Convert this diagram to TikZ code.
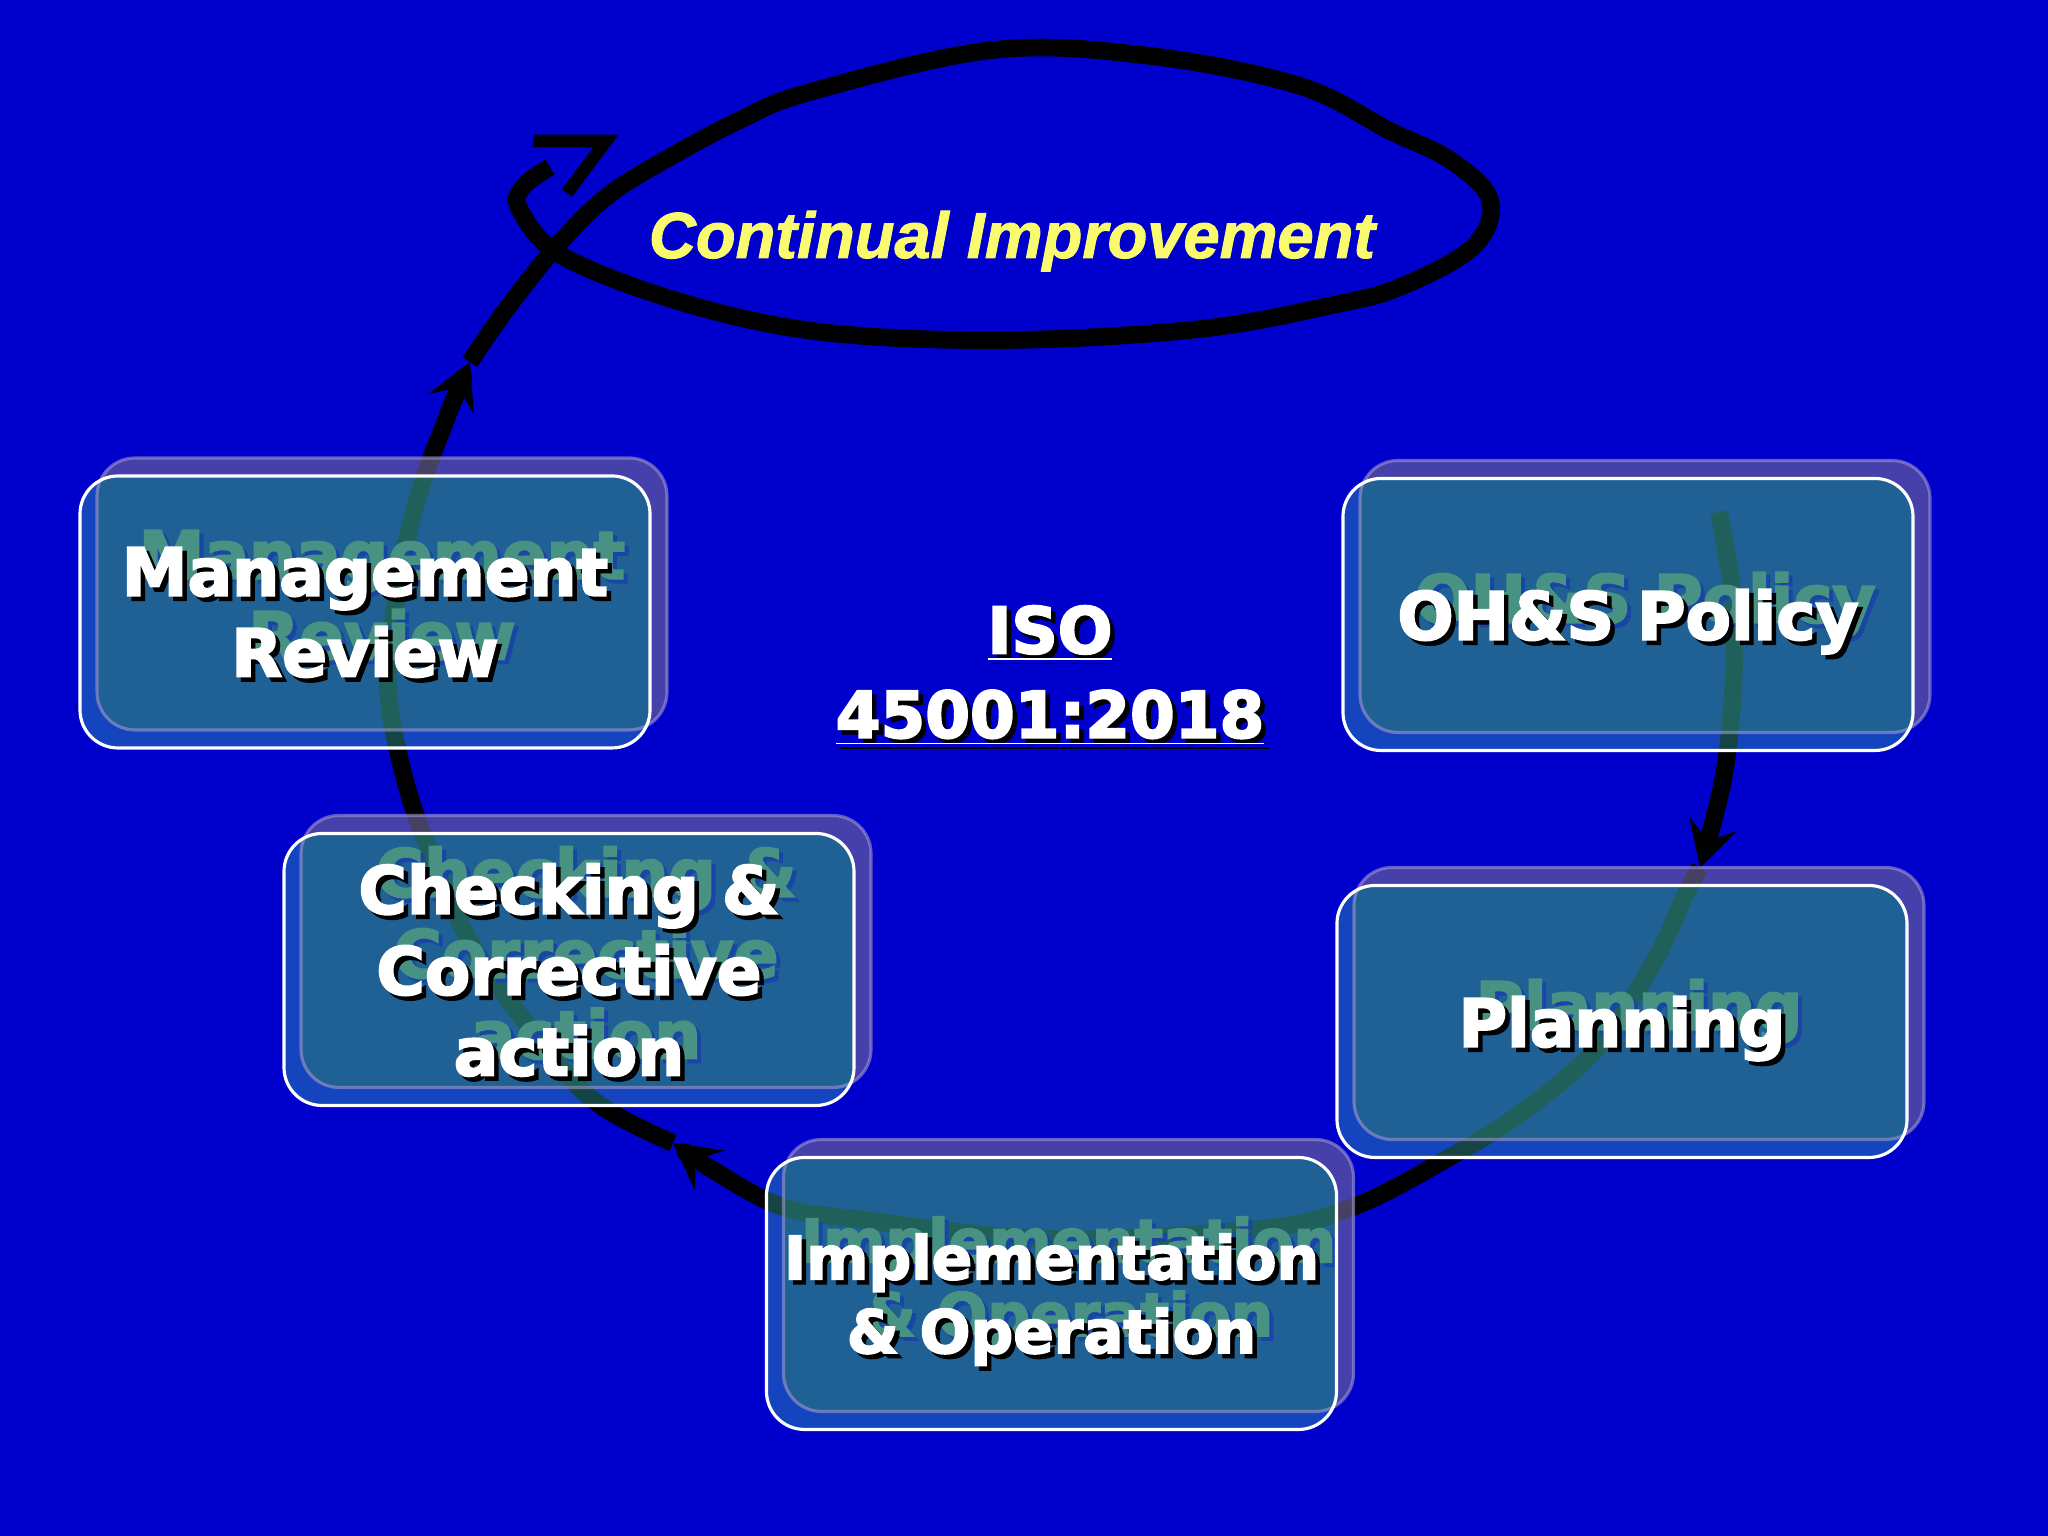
\documentclass[tikz,border=0pt]{standalone}
\usepackage{fontspec}
\newfontfamily\boxfont[BoldFeatures={FakeBold=3}]{DejaVu Sans}
\newfontfamily\cifont[BoldItalicFeatures={FakeBold=1.5}]{Liberation Sans}
\usetikzlibrary{arrows.meta,calc}

\definecolor{slideblue}{RGB}{0,0,204}
\definecolor{backfill}{RGB}{108,100,152}
\definecolor{frontfill}{RGB}{50,170,170}
\definecolor{midfill}{RGB}{45,138,127}
\definecolor{backedge}{RGB}{160,150,205}
\definecolor{ghosttext}{RGB}{72,146,132}
\definecolor{ghostshade}{RGB}{25,70,165}
\definecolor{ciyellow}{RGB}{250,250,110}

% one element of the cycle: back copy, front copy and the texts
\newcommand{\ohsbox}[4]{%
  \coordinate (#1) at #2;
  \path (#1) ++(-2.85,-1.36) coordinate (#1 sw) ++(5.7,2.72) coordinate (#1 ne);
  \path (#1 sw) ++(0.17,0.18) coordinate (#1 bsw) (#1 ne) ++(0.17,0.18) coordinate (#1 bne);
  \begin{scope}
    \clip[box clip] (#1 bsw) rectangle (#1 bne);
    \fill[back only] (#1 bsw) rectangle (#1 bne) (#1 sw) rectangle (#1 ne);
    \fill[overlap] (#1 sw) rectangle (#1 ne);
  \end{scope}
  \begin{scope}
    \clip[box clip] (#1 sw) rectangle (#1 ne);
    \fill[front only] (#1 sw) rectangle (#1 ne) (#1 bsw) rectangle (#1 bne);
  \end{scope}
  \draw[back edge] (#1 bsw) rectangle (#1 bne);
  \node[ghost shade, font={#3}] (#1 gs) at ($(#1)+(0.21,0.13)$) {#4};
  \node[ghost, font={#3}]       (#1 g)  at ($(#1)+(0.17,0.17)$) {#4};
  \draw[front edge] (#1 sw) rectangle (#1 ne);
  \node[lbl shade, font={#3}]   (#1 s)  at ($(#1)+(0.045,-0.045)$) {#4};
  \node[lbl, font={#3}]         (#1 t)  at (#1) {#4};
}

\begin{document}
\begin{tikzpicture}[>={Stealth[length=13pt,width=14pt,inset=5pt]}]
  \tikzstyle{cycle line}=[line width=5pt, line cap=butt, line join=round]
  \tikzstyle{hook}=[line width=3.6pt, line join=miter, line cap=butt]
  \tikzstyle{box clip}=[rounded corners=3.8mm]
  \tikzstyle{back only}=[fill=backfill, fill opacity=0.65, even odd rule, rounded corners=3.8mm]
  \tikzstyle{front only}=[fill=frontfill, fill opacity=0.4, even odd rule, rounded corners=3.8mm]
  \tikzstyle{overlap}=[fill=midfill, fill opacity=0.71, rounded corners=3.8mm]
  \tikzstyle{back edge}=[draw=backedge, draw opacity=0.6, line width=0.9pt, rounded corners=3.8mm]
  \tikzstyle{front edge}=[draw=white, line width=0.9pt, rounded corners=3.8mm]
  \tikzstyle{lbl}=[text=white, align=center, text depth=0pt, inner sep=0pt]
  \tikzstyle{lbl shade}=[lbl, text=black]
  \tikzstyle{ghost}=[lbl, text=ghosttext]
  \tikzstyle{ghost shade}=[lbl, text=ghostshade]

  \useasboundingbox (0,0) rectangle (20.48,15.36);
  \fill[slideblue] (0,0) rectangle (20.48,15.36);

  % the cycle and the spiral
  \coordinate (start) at (17.19,10.24);
  \coordinate (tip1)  at (17.00,6.68);
  \coordinate (tip2)  at (6.73,3.93);
  \coordinate (tip3)  at (4.70,11.74);
  \coordinate (end)   at (5.50,13.69);
  \draw[cycle line, ->] plot[smooth, tension=0.6] coordinates {(start) (17.33,9.36)
    (17.33,8.46) (17.23,7.56) (tip1)};
  \draw[cycle line, ->] plot[smooth, tension=0.6] coordinates {(tip1) (16.86,6.43)
    (16.55,5.76) (15.98,4.89) (15.21,4.23) (14.50,3.79) (13.53,3.29) (12.58,3.07)
    (10.50,2.97) (8.56,3.17) (7.80,3.30) (7.13,3.66) (tip2)};
  \draw[cycle line, ->] plot[smooth, tension=0.6] coordinates {(tip2) (5.93,4.36)
    (5.29,5.09) (4.71,5.93) (4.33,6.76) (4.05,7.56) (3.88,8.46) (3.95,9.29)
    (4.15,10.29) (4.47,11.19) (tip3)};
  \draw[cycle line] plot[smooth, tension=0.6] coordinates {(tip3) (5.00,12.18)
    (5.32,12.60) (5.64,12.98) (6.10,13.42) (6.72,13.80) (7.40,14.16) (8.10,14.44)
    (9.93,14.86) (11.50,14.80) (13.00,14.50) (13.90,14.05) (14.50,13.76)
    (14.90,13.36) (14.73,12.89) (14.00,12.49) (13.33,12.31) (12.00,12.07)
    (10.10,11.96) (8.30,12.03) (6.91,12.31) (5.64,12.79) (5.20,13.26) (5.23,13.49) (end)};
  \coordinate (hook a) at (5.33,13.95);
  \coordinate (hook b) at (6.06,13.95);
  \coordinate (hook c) at (5.67,13.43);
  \draw[hook] (hook a) -- (hook b) -- (hook c);

  % the five elements
  \ohsbox{mgmt}{(3.65,9.24)}{\boxfont\bfseries\fontsize{18.8}{23}\selectfont}{Management\\Review}
  \ohsbox{policy}{(16.28,9.215)}{\boxfont\bfseries\fontsize{18.8}{23}\selectfont}{OH\&S Policy}
  \ohsbox{planning}{(16.22,5.145)}{\boxfont\bfseries\fontsize{18.8}{23}\selectfont}{Planning}
  \ohsbox{checking}{(5.69,5.665)}{\boxfont\bfseries\fontsize{18.8}{23}\selectfont}{Checking \&\\Corrective\\action}
  \ohsbox{impl}{(10.515,2.425)}{\boxfont\bfseries\fontsize{17}{21}\selectfont}{Implementation\\\& Operation}

  % title in the middle
  \node[lbl shade, font=\boxfont\bfseries\fontsize{18.3}{24}\selectfont] (iso s) at (10.545,8.598)
    {\underline{ISO}\\\underline{45001:2018}};
  \node[lbl, font=\boxfont\bfseries\fontsize{18.3}{24}\selectfont] (iso) at (10.50,8.643)
    {\underline{ISO}\\\underline{45001:2018}};

  \node[text=ciyellow, anchor=base, inner sep=0pt,
        font=\cifont\bfseries\itshape\fontsize{18.5}{22}\selectfont] (ci) at (10.12,12.78)
    {Continual Improvement};
\end{tikzpicture}
\end{document}
